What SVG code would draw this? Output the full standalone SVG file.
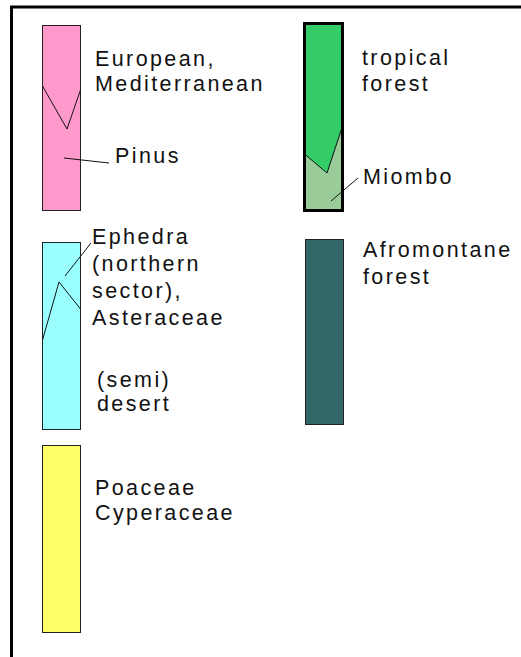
<svg xmlns="http://www.w3.org/2000/svg" width="521" height="657" viewBox="0 0 521 657">
<style>
.t{font-family:"Liberation Sans",Arial,sans-serif;font-size:21.5px;letter-spacing:2.4px;fill:#111}
.bar{stroke:#222;stroke-width:1}
.ln{fill:none;stroke:#111;stroke-width:1}
</style>
<rect width="521" height="657" fill="#fff"/>
<g id="frame">
<path d="M11.5 657 V7 H521" fill="none" stroke="#000" stroke-width="3"/>
</g>
<g id="european">
<rect class="bar" x="42.5" y="25.5" width="38" height="185" fill="#FF99CC"/>
<polyline class="ln" points="42.5,86 67,129 80.5,90"/>
<text class="t" x="95" y="66">European,</text>
<text class="t" x="95" y="91">Mediterranean</text>
<text class="t" x="115" y="163">Pinus</text>
</g>
<g id="tropical">
<rect x="304.5" y="23.5" width="38" height="187" fill="#33CC66"/>
<polygon points="304.5,154 327,173 342.5,126 342.5,210.5 304.5,210.5" fill="#99CC99"/>
<polyline class="ln" points="304.5,154 327,173 342.5,126"/>
<rect x="304.5" y="23.5" width="38" height="187" fill="none" stroke="#000" stroke-width="3"/>
<text class="t" x="362" y="65">tropical</text>
<text class="t" x="362" y="91">forest</text>
<text class="t" x="363" y="184">Miombo</text>
</g>
<g id="desert">
<rect class="bar" x="42.5" y="242.5" width="38" height="187" fill="#99FFFF"/>
<polyline class="ln" points="42.5,340 59,282 80.5,309"/>
<text class="t" x="92" y="244">Ephedra</text>
<text class="t" x="92" y="271">(northern</text>
<text class="t" x="92" y="298">sector),</text>
<text class="t" x="92" y="325">Asteraceae</text>
<text class="t" x="97" y="387">(semi)</text>
<text class="t" x="97" y="411">desert</text>
</g>
<g id="afromontane">
<rect class="bar" x="305.5" y="239.5" width="38" height="185" fill="#336666" stroke="#000"/>
<text class="t" x="363" y="257">Afromontane</text>
<text class="t" x="363" y="284">forest</text>
</g>
<g id="poaceae">
<rect class="bar" x="42.5" y="445.5" width="38" height="187" fill="#FFFF66"/>
<text class="t" x="95" y="495">Poaceae</text>
<text class="t" x="95" y="520">Cyperaceae</text>
</g>
<g id="connectors">
<line class="ln" x1="64" y1="158" x2="109" y2="163"/>
<line class="ln" x1="331" y1="201" x2="358" y2="178"/>
<line class="ln" x1="65" y1="276" x2="91" y2="243"/>
</g>
</svg>
